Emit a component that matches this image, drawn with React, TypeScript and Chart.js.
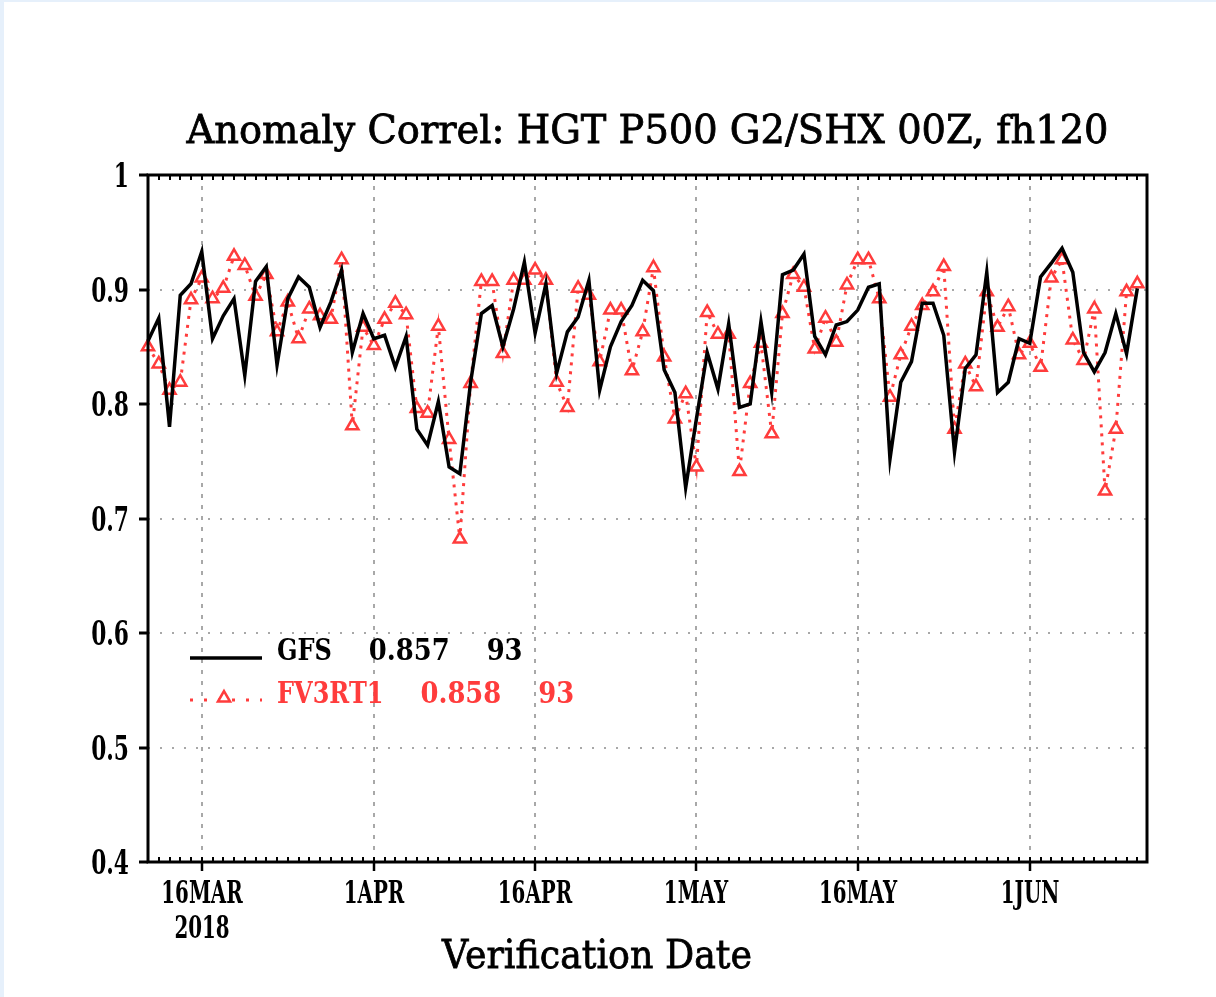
import React, { useEffect, useRef } from 'react';
import { Chart, registerables } from 'chart.js';

Chart.register(...registerables);

// ---------- data ----------
const TITLE = 'Anomaly Correl: HGT P500 G2/SHX 00Z, fh120';
const X_TITLE = 'Verification Date';
// day index 0 = 11 MAR 2018, one point per day (93 days)
const MAJOR_DAYS = [5, 21, 36, 51, 66, 82];
const MAJOR_LABELS = [['16MAR', '2018'], ['1APR'], ['16APR'], ['1MAY'], ['16MAY'], ['1JUN']];
const Y_MIN = 0.4;
const Y_MAX = 1;
const Y_STEP = 0.1;

const GFS = [
  0.855, 0.875, 0.78, 0.895, 0.905, 0.933, 0.857, 0.877, 0.892, 0.825,
  0.907, 0.92, 0.834, 0.892, 0.911, 0.902, 0.867, 0.889, 0.917, 0.845,
  0.879, 0.857, 0.86, 0.832, 0.859, 0.778, 0.764, 0.802, 0.745, 0.739,
  0.819, 0.879, 0.886, 0.85, 0.883, 0.924, 0.862, 0.905, 0.827, 0.863,
  0.876, 0.908, 0.812, 0.85, 0.872, 0.886, 0.908, 0.899, 0.83, 0.81,
  0.727, 0.787, 0.845, 0.813, 0.87, 0.797, 0.8, 0.872, 0.81, 0.913,
  0.917, 0.931, 0.859, 0.843, 0.869, 0.872, 0.882, 0.902, 0.905, 0.752,
  0.819, 0.837, 0.888, 0.888, 0.86, 0.758, 0.831, 0.843, 0.915, 0.81,
  0.819, 0.857, 0.853, 0.911, 0.923, 0.936, 0.915, 0.845, 0.828, 0.845,
  0.879, 0.844, 0.901,
];

const FV3RT1 = [
  0.85, 0.835, 0.812, 0.819, 0.891, 0.91, 0.892, 0.901, 0.929, 0.921,
  0.894, 0.913, 0.863, 0.889, 0.857, 0.883, 0.877, 0.874, 0.926, 0.781,
  0.867, 0.851, 0.874, 0.888, 0.878, 0.796, 0.792, 0.868, 0.769, 0.682,
  0.818, 0.907, 0.907, 0.844, 0.908, 0.908, 0.917, 0.908, 0.819, 0.797,
  0.901, 0.895, 0.837, 0.882, 0.882, 0.829, 0.863, 0.919, 0.841, 0.787,
  0.809, 0.745, 0.88, 0.861, 0.861, 0.741, 0.818, 0.853, 0.774, 0.879,
  0.913, 0.902, 0.848, 0.875, 0.854, 0.904, 0.926, 0.926, 0.892, 0.806,
  0.843, 0.868, 0.886, 0.898, 0.92, 0.778, 0.835, 0.815, 0.898, 0.867,
  0.885, 0.843, 0.853, 0.832, 0.91, 0.926, 0.856, 0.838, 0.883, 0.724,
  0.778, 0.898, 0.905,
];

const SERIES_NAMES = ['GFS', 'FV3RT1'];
const SERIES_MEANS = ['0.857', '0.858'];
const SERIES_COUNTS = ['93', '93'];

// ---------- style ----------
const RED = '#ff3c3c';
const FONT = '"DejaVu Serif", serif';
const GRID = '#a8a8a8';

function drawText(
  ctx: CanvasRenderingContext2D,
  text: string,
  x: number,
  y: number,
  size: number,
  sx: number,
  align: 'left' | 'center' | 'right',
  color = '#000',
  targetW = 0,
  weight = 'bold',
) {
  ctx.save();
  ctx.font = `${weight} ${size}px ${FONT}`;
  ctx.textBaseline = 'alphabetic';
  ctx.textAlign = 'left';
  ctx.fillStyle = color;
  const raw = ctx.measureText(text).width;
  const s = targetW > 0 ? targetW / raw : sx;
  const w = raw * s;
  const left = align === 'center' ? x - w / 2 : align === 'right' ? x - w : x;
  ctx.translate(left, y);
  ctx.scale(s, 1);
  ctx.fillText(text, 0, 0);
  if (weight !== 'bold') {
    ctx.strokeStyle = color;
    ctx.lineWidth = 0.8;
    ctx.strokeText(text, 0, 0);
  }
  ctx.restore();
  return w;
}

function triangle(ctx: CanvasRenderingContext2D, x: number, y: number, r: number) {
  ctx.beginPath();
  ctx.moveTo(x, y - r);
  ctx.lineTo(x + r * 0.866, y + r * 0.5);
  ctx.lineTo(x - r * 0.866, y + r * 0.5);
  ctx.closePath();
  ctx.fillStyle = '#fff';
  ctx.fill();
  ctx.strokeStyle = RED;
  ctx.lineWidth = 2.5;
  ctx.stroke();
}

const framePlugin = {
  id: 'gradsFrame',
  beforeDraw(chart: any) {
    const { ctx, width, height } = chart;
    ctx.save();
    ctx.fillStyle = '#fff';
    ctx.fillRect(0, 0, width, height);
    ctx.fillStyle = '#e6f0fb';
    ctx.fillRect(0, 0, 4, height);
    ctx.fillRect(0, 0, width, 2);
    ctx.restore();
  },
  beforeDatasetsDraw(chart: any) {
    const { ctx, chartArea: a, scales } = chart;
    const xs = scales.x;
    const ys = scales.y;
    ctx.save();
    ctx.strokeStyle = GRID;
    ctx.lineWidth = 2;
    ctx.setLineDash([2, 10]);
    ys.ticks.forEach((t: any) => {
      if (t.value <= Y_MIN + 1e-9 || t.value >= Y_MAX - 1e-9) return;
      const y = Math.round(ys.getPixelForValue(t.value));
      ctx.beginPath();
      ctx.moveTo(a.left, y);
      ctx.lineTo(a.right, y);
      ctx.stroke();
    });
    ctx.setLineDash([4, 7]);
    MAJOR_DAYS.forEach((d) => {
      const x = Math.round(xs.getPixelForValue(d));
      ctx.beginPath();
      ctx.moveTo(x, a.top);
      ctx.lineTo(x, a.bottom);
      ctx.stroke();
    });
    ctx.restore();
  },
  afterDatasetsDraw(chart: any) {
    const { ctx, chartArea: a, scales } = chart;
    const xs = scales.x;
    const ys = scales.y;
    ctx.save();
    // frame
    ctx.strokeStyle = '#000';
    ctx.lineWidth = 3;
    ctx.strokeRect(a.left, a.top, a.right - a.left, a.bottom - a.top);
    // minor day ticks top & bottom
    ctx.lineWidth = 2;
    for (let d = 0; d < GFS.length; d++) {
      const x = Math.round(xs.getPixelForValue(d));
      ctx.beginPath();
      ctx.moveTo(x, a.top);
      ctx.lineTo(x, a.top + 5);
      ctx.moveTo(x, a.bottom);
      ctx.lineTo(x, a.bottom - 5);
      ctx.stroke();
    }
    // major x ticks
    ctx.lineWidth = 2.5;
    MAJOR_DAYS.forEach((d, i) => {
      const x = Math.round(xs.getPixelForValue(d));
      ctx.beginPath();
      ctx.moveTo(x, a.bottom);
      ctx.lineTo(x, a.bottom + 9);
      ctx.stroke();
      const lines = MAJOR_LABELS[i];
      lines.forEach((ln, k) => {
        drawText(ctx, ln, x, a.bottom + 41 + k * 35, 31, 0.64, 'center');
      });
    });
    // y ticks
    ctx.lineWidth = 3;
    ys.ticks.forEach((t: any) => {
      const y = Math.round(ys.getPixelForValue(t.value));
      ctx.beginPath();
      ctx.moveTo(a.left - 9, y);
      ctx.lineTo(a.left, y);
      ctx.stroke();
      const lbl = Math.abs(t.value - 1) < 1e-9 ? '1' : t.value.toFixed(1);
      drawText(ctx, lbl, a.left - 19, y + 12, 34, 0.64, 'right');
    });
    // title
    drawText(ctx, TITLE, (a.left + a.right) / 2, a.top - 32, 39, 1, 'center', '#000', 922, 'normal');
    // x axis title
    drawText(ctx, X_TITLE, 597, a.bottom + 106, 39, 1, 'center', '#000', 310, 'normal');

    // legend
    const lx0 = a.left + 42;
    const lx1 = a.left + 114;
    const tx = a.left + 129;
    const rows = [a.top + 485, a.top + 528];
    // black line sample
    ctx.strokeStyle = '#000';
    ctx.lineWidth = 3.5;
    ctx.setLineDash([]);
    ctx.beginPath();
    ctx.moveTo(lx0, rows[0] - 2);
    ctx.lineTo(lx1, rows[0] - 2);
    ctx.stroke();
    // red dotted sample
    ctx.strokeStyle = RED;
    ctx.lineWidth = 3;
    ctx.setLineDash([3, 11]);
    ctx.beginPath();
    ctx.moveTo(lx0, rows[1] - 3);
    ctx.lineTo(lx1, rows[1] - 3);
    ctx.stroke();
    ctx.setLineDash([]);
    triangle(ctx, (lx0 + lx1) / 2 - 2, rows[1] - 5, 7);
    SERIES_NAMES.forEach((name, i) => {
      const color = i === 0 ? '#000' : RED;
      let x = tx;
      x += drawText(ctx, name, x, rows[i], 30, 0.8, 'left', color) + 37;
      x += drawText(ctx, SERIES_MEANS[i], x, rows[i], 30, 0.86, 'left', color) + 37;
      drawText(ctx, SERIES_COUNTS[i], x, rows[i], 30, 0.86, 'left', color);
    });
    ctx.restore();
  },
};

export default function App() {
  const ref = useRef<HTMLCanvasElement | null>(null);

  useEffect(() => {
    if (!ref.current) return;
    const chart = new Chart(ref.current, {
      type: 'line',
      data: {
        datasets: [
          {
            label: SERIES_NAMES[0],
            data: GFS.map((v, i) => ({ x: i, y: v })),
            borderColor: '#000',
            borderWidth: 3.5,
            pointRadius: 0,
            tension: 0,
            clip: false as any,
          },
          {
            label: SERIES_NAMES[1],
            data: FV3RT1.map((v, i) => ({ x: i, y: v })),
            borderColor: RED,
            borderWidth: 3,
            borderDash: [3, 6],
            pointStyle: 'triangle',
            pointRadius: 7,
            pointBorderWidth: 2.5,
            pointBackgroundColor: '#fff',
            pointBorderColor: RED,
            tension: 0,
            clip: false as any,
          },
        ],
      },
      options: {
        responsive: false,
        animation: false,
        events: [],
        layout: { padding: { top: 175, right: 69, left: 0, bottom: 0 } },
        scales: {
          x: {
            type: 'linear',
            min: 0,
            max: 92.9,
            afterBuildTicks: (s: any) => {
              s.ticks = MAJOR_DAYS.map((v) => ({ value: v }));
            },
            afterFit: (s: any) => {
              s.height = 135;
            },
            ticks: { display: false },
            grid: { display: false, drawTicks: false },
            border: { display: false },
          },
          y: {
            min: Y_MIN,
            max: Y_MAX,
            ticks: { display: false, stepSize: Y_STEP },
            afterFit: (s: any) => {
              s.width = 148;
            },
            grid: { display: false, drawTicks: false },
            border: { display: false },
          },
        },
        plugins: {
          legend: { display: false },
          title: { display: false },
          tooltip: { enabled: false },
        },
      },
      plugins: [framePlugin],
    });
    return () => chart.destroy();
  }, []);

  return (
    <div style={{ position: 'fixed', left: 0, top: 0, width: 1216, height: 997, background: '#fff' }}>
      <canvas ref={ref} width={1216} height={997} style={{ width: 1216, height: 997, display: 'block' }} />
    </div>
  );
}
